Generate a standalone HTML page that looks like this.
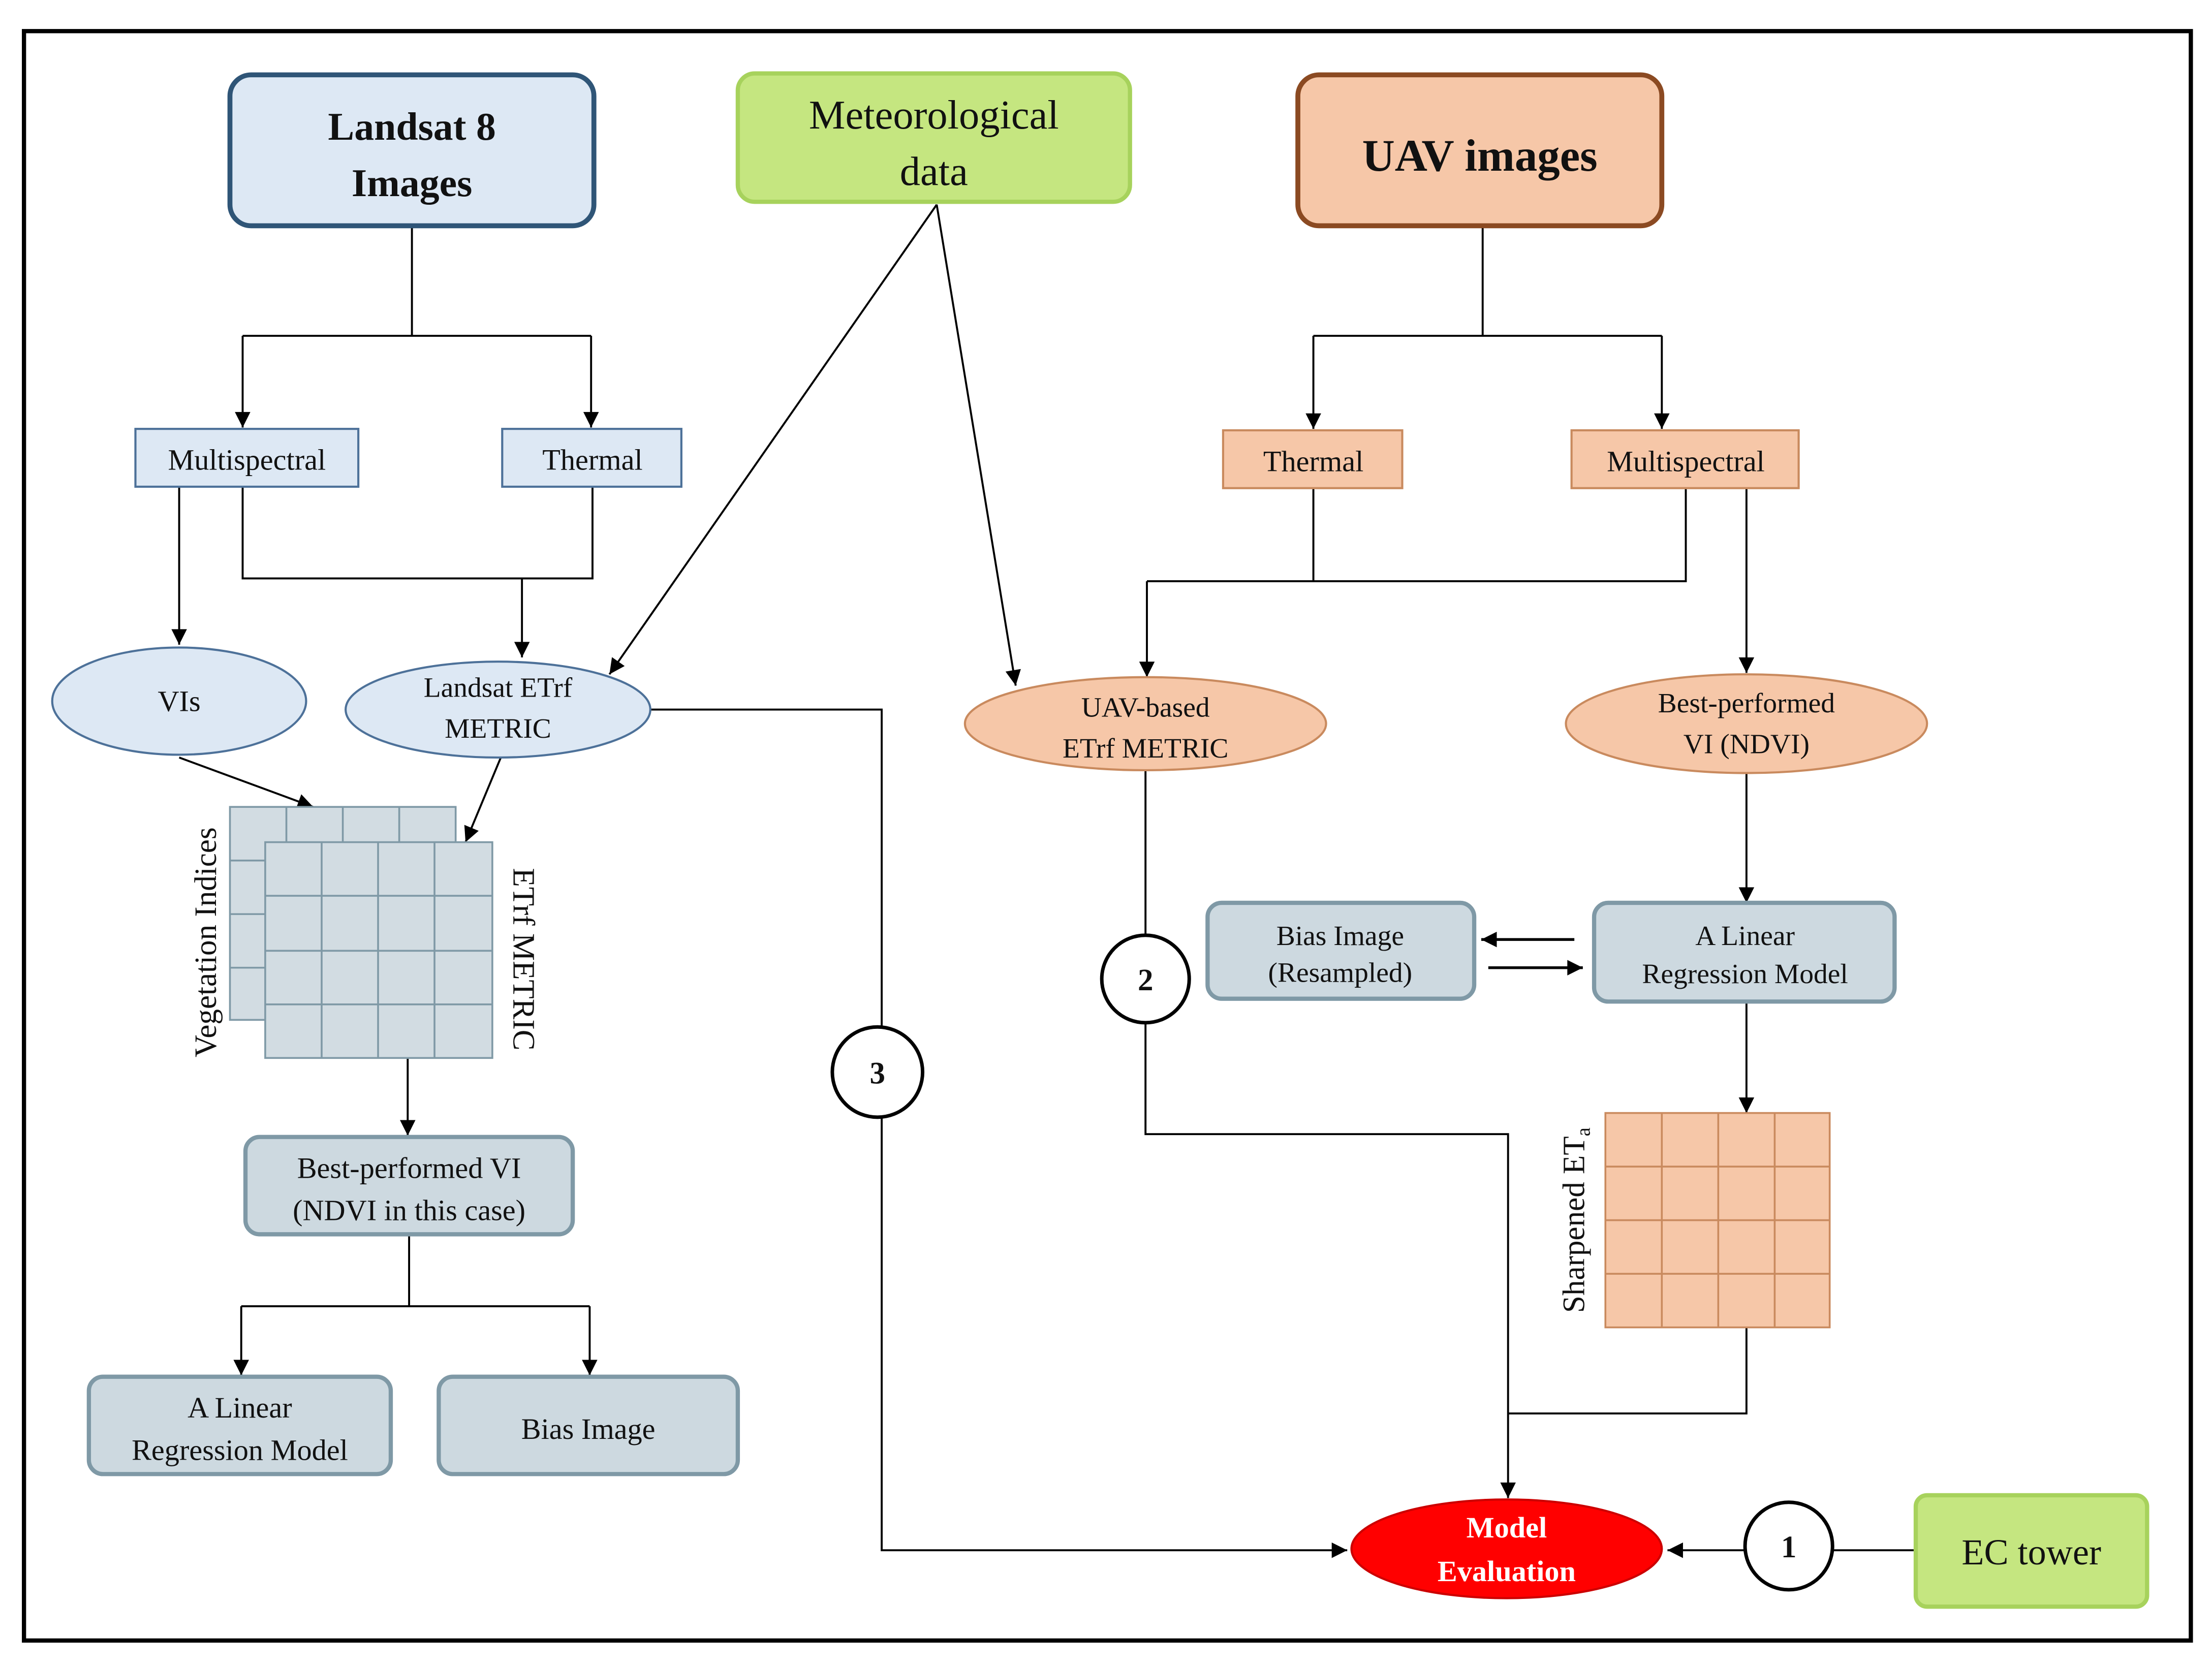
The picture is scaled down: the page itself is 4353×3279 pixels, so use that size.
<!DOCTYPE html>
<html><head><meta charset="utf-8"><style>
html,body{margin:0;padding:0;background:#fff;}
svg{display:block;}
text{font-family:"Liberation Serif","DejaVu Serif",serif;fill:#111;}
</style></head><body>
<svg width="4353" height="3279" viewBox="0 0 1568 1181" xmlns="http://www.w3.org/2000/svg" font-family="Liberation Serif, DejaVu Serif, serif">
<defs>
<marker id="a" viewBox="0 0 10 10" refX="10" refY="5" markerWidth="12" markerHeight="11" markerUnits="userSpaceOnUse" orient="auto"><path d="M0,0 L10,5 L0,10 z" fill="#000"/></marker>
</defs>
<rect x="0" y="0" width="1568" height="1181" fill="#fff"/>
<rect x="17" y="22" width="1536" height="1141" fill="none" stroke="#000" stroke-width="3"/>

<g stroke="#000" stroke-width="1.4" fill="none">
<path d="M292,160 V238 M172,238 H419"/>
<path d="M172,238 V303" marker-end="url(#a)"/>
<path d="M419,238 V303" marker-end="url(#a)"/>
<path d="M127,345 V457" marker-end="url(#a)"/>
<path d="M172,345 V410 H420 V345"/>
<path d="M370,410 V466" marker-end="url(#a)"/>
<path d="M664,145 L432,478" marker-end="url(#a)"/>
<path d="M664,145 L720,486" marker-end="url(#a)"/>
<path d="M461,503 H625 V1099 H955" marker-end="url(#a)"/>
<path d="M127,537 L222,572" marker-end="url(#a)"/>
<path d="M355,537 L330,597" marker-end="url(#a)"/>
<path d="M289,750 V805" marker-end="url(#a)"/>
<path d="M290,875 V926 M171,926 H418"/>
<path d="M171,926 V975" marker-end="url(#a)"/>
<path d="M418,926 V975" marker-end="url(#a)"/>
<path d="M1051,160 V238 M931,238 H1178"/>
<path d="M931,238 V304" marker-end="url(#a)"/>
<path d="M1178,238 V304" marker-end="url(#a)"/>
<path d="M931,346 V412 H813 M931,412 H1195 V346"/>
<path d="M813,412 V480" marker-end="url(#a)"/>
<path d="M1238,346 V477" marker-end="url(#a)"/>
<path d="M812,546 V804 H1069 V1062" marker-end="url(#a)"/>
<path d="M1238,548 V640" marker-end="url(#a)"/>
<path d="M1116,666 H1050" marker-end="url(#a)" stroke-width="2"/>
<path d="M1055,686 H1122" marker-end="url(#a)" stroke-width="2"/>
<path d="M1238,710 V789" marker-end="url(#a)"/>
<path d="M1238,941 V1002 H1069"/>
<path d="M1358,1099 H1182" marker-end="url(#a)"/>
</g>

<rect x="163" y="53" width="258" height="107" rx="15" fill="#dde8f4" stroke="#2f5577" stroke-width="3.5"/>
<text x="292" y="99" font-size="28" font-weight="bold" text-anchor="middle">Landsat 8</text>
<text x="292" y="139" font-size="28" font-weight="bold" text-anchor="middle">Images</text>
<rect x="523" y="52" width="278" height="91" rx="12" fill="#c5e680" stroke="#a7d25c" stroke-width="3"/>
<text x="662" y="91" font-size="29" text-anchor="middle">Meteorological</text>
<text x="662" y="131" font-size="29" text-anchor="middle">data</text>
<rect x="920" y="53" width="258" height="107" rx="15" fill="#f6c7a8" stroke="#8b4a22" stroke-width="3.5"/>
<text x="1049" y="121" font-size="32" font-weight="bold" text-anchor="middle">UAV images</text>

<rect x="96" y="304" width="158" height="41" fill="#dde8f4" stroke="#4d7199" stroke-width="1.5"/>
<text x="175" y="333" font-size="21" text-anchor="middle">Multispectral</text>
<rect x="356" y="304" width="127" height="41" fill="#dde8f4" stroke="#4d7199" stroke-width="1.5"/>
<text x="420" y="333" font-size="21" text-anchor="middle">Thermal</text>
<rect x="867" y="305" width="127" height="41" fill="#f6c7a8" stroke="#c98a5e" stroke-width="1.5"/>
<text x="931" y="334" font-size="21" text-anchor="middle">Thermal</text>
<rect x="1114" y="305" width="161" height="41" fill="#f6c7a8" stroke="#c98a5e" stroke-width="1.5"/>
<text x="1195" y="334" font-size="21" text-anchor="middle">Multispectral</text>

<ellipse cx="127" cy="497" rx="90" ry="38" fill="#dde8f4" stroke="#4d7199" stroke-width="1.5"/>
<text x="127" y="504" font-size="21" text-anchor="middle">VIs</text>
<ellipse cx="353" cy="503" rx="108" ry="34" fill="#dde8f4" stroke="#4d7199" stroke-width="1.5"/>
<text x="353" y="494" font-size="20" text-anchor="middle">Landsat ETrf</text>
<text x="353" y="523" font-size="20" text-anchor="middle">METRIC</text>
<ellipse cx="812" cy="513" rx="128" ry="33" fill="#f6c7a8" stroke="#c98a5e" stroke-width="1.5"/>
<text x="812" y="508" font-size="20" text-anchor="middle">UAV-based</text>
<text x="812" y="537" font-size="20" text-anchor="middle">ETrf METRIC</text>
<ellipse cx="1238" cy="513" rx="128" ry="35" fill="#f6c7a8" stroke="#c98a5e" stroke-width="1.5"/>
<text x="1238" y="505" font-size="20" text-anchor="middle">Best-performed</text>
<text x="1238" y="534" font-size="20" text-anchor="middle">VI (NDVI)</text>

<g fill="#d2dce2" stroke="#7f99a6" stroke-width="1.3">
<rect x="163" y="572" width="160" height="151"/>
<path d="M203,572V723M243,572V723M283,572V723M163,610H323M163,648H323M163,686H323" fill="none"/>
<rect x="188" y="597" width="161" height="153"/>
<path d="M228,597V750M268,597V750M308,597V750M188,635H349M188,674H349M188,712H349" fill="none"/>
</g>
<g fill="#f6c7a8" stroke="#c98a5e" stroke-width="1.3">
<rect x="1138" y="789" width="159" height="152"/>
<path d="M1178,789V941M1218,789V941M1258,789V941M1138,827H1297M1138,865H1297M1138,903H1297" fill="none"/>
</g>
<text transform="translate(153,668) rotate(-90)" font-size="22" text-anchor="middle">Vegetation  Indices</text>
<text transform="translate(364,680) rotate(90)" font-size="22" text-anchor="middle">ETrf METRIC</text>
<text transform="translate(1123,865) rotate(-90)" font-size="22" text-anchor="middle">Sharpened ET<tspan font-size="14" dy="4">a</tspan></text>

<g fill="#cdd9e0" stroke="#7f99a6" stroke-width="3">
<rect x="174" y="806" width="232" height="69" rx="10"/>
<rect x="63" y="976" width="214" height="69" rx="10"/>
<rect x="311" y="976" width="212" height="69" rx="10"/>
<rect x="856" y="640" width="189" height="68" rx="10"/>
<rect x="1130" y="640" width="213" height="70" rx="10"/>
</g>
<text x="290" y="835" font-size="21" text-anchor="middle">Best-performed VI</text>
<text x="290" y="865" font-size="21" text-anchor="middle">(NDVI in this case)</text>
<text x="170" y="1005" font-size="21" text-anchor="middle">A Linear</text>
<text x="170" y="1035" font-size="21" text-anchor="middle">Regression Model</text>
<text x="417" y="1020" font-size="21" text-anchor="middle">Bias Image</text>
<text x="950" y="670" font-size="20" text-anchor="middle">Bias Image</text>
<text x="950" y="696" font-size="20" text-anchor="middle">(Resampled)</text>
<text x="1237" y="670" font-size="20" text-anchor="middle">A Linear</text>
<text x="1237" y="697" font-size="20" text-anchor="middle">Regression Model</text>

<g fill="#fff" stroke="#000" stroke-width="2.5">
<circle cx="622" cy="760" r="32"/>
<circle cx="812" cy="694" r="31"/>
<circle cx="1268" cy="1096" r="31"/>
</g>
<text x="622" y="768" font-size="22" font-weight="bold" text-anchor="middle">3</text>
<text x="812" y="702" font-size="22" font-weight="bold" text-anchor="middle">2</text>
<text x="1268" y="1104" font-size="22" font-weight="bold" text-anchor="middle">1</text>

<ellipse cx="1068" cy="1098" rx="110" ry="35" fill="#f00" stroke="#c00" stroke-width="1.5"/>
<text x="1068" y="1090" font-size="21" font-weight="bold" text-anchor="middle" style="fill:#fff">Model</text>
<text x="1068" y="1121" font-size="21" font-weight="bold" text-anchor="middle" style="fill:#fff">Evaluation</text>
<rect x="1358" y="1060" width="164" height="79" rx="8" fill="#c5e680" stroke="#a7d25c" stroke-width="3"/>
<text x="1440" y="1109" font-size="26" text-anchor="middle">EC tower</text>
</svg>
</body></html>
